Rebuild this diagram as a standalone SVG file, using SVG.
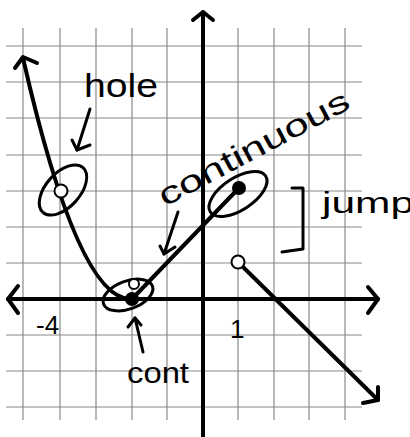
<svg xmlns="http://www.w3.org/2000/svg" width="410" height="437" viewBox="0 0 410 437">
<style>
.grid{stroke:#8a8a8a;stroke-width:1.2;fill:none}
.ink{stroke:#000;stroke-width:4;fill:none;stroke-linecap:round;stroke-linejoin:round}
.thin{stroke:#000;stroke-width:3;fill:none;stroke-linecap:round;stroke-linejoin:round}
.lbl{font-family:"Liberation Sans",Arial,sans-serif;fill:#000}
</style>
<rect width="410" height="437" fill="#fff"/>
<g id="grid" class="grid">
<path d="M23 28V420M60 28V420M96 28V420M132 28V420M167 28V420M238 28V420M274 28V420M309 28V420M345 28V420"/>
<path d="M6 46H362M6 82H362M6 118H362M6 155H362M6 191H362M6 227H362M6 263H362M6 335H362M6 371H362M6 407H362"/>
</g>
<g id="axes">
<path class="ink" d="M203 12V437"/>
<path class="ink" d="M193 20L203 12L213 20"/>
<path class="ink" d="M8 299H378"/>
<path class="ink" d="M18 286L8 299L18 313"/>
<path class="ink" d="M368 287L378 299L368 313"/>
</g>
<g id="connectors">
<path class="ink" d="M23 58Q78 300 131 299"/>
<path class="ink" d="M15 68L23 57L37 63"/>
<path class="ink" d="M133 298L237 190"/>
<path class="ink" d="M243 267L378 400"/>
<path class="ink" d="M363 403L378 400L378 387"/>
<path class="thin" d="M90 109L77 150"/>
<path class="thin" d="M72 140L77 150L90 145"/>
<path class="thin" d="M178 212L164 254"/>
<path class="thin" d="M160 246L164 254L175 247"/>
<path class="thin" d="M143 352L135 318"/>
<path class="thin" d="M128 327L135 318L141 325"/>
<path class="thin" d="M292 188H303V249L282 252"/>
</g>
<g id="hole-point">
<ellipse class="thin" cx="63" cy="190" rx="30" ry="17" transform="rotate(-48 63 190)"/>
<circle cx="61" cy="191" r="6.5" fill="#fff" stroke="#000" stroke-width="2"/>
</g>
<g id="cont-point">
<ellipse class="thin" cx="128" cy="295" rx="26" ry="14" transform="rotate(-20 128 295)"/>
<circle cx="134" cy="284" r="5" fill="#fff" stroke="#000" stroke-width="2"/>
<circle cx="132" cy="299" r="7" fill="#000"/>
</g>
<g id="continuous-point">
<ellipse class="thin" cx="238" cy="194" rx="33" ry="16" transform="rotate(-33 238 194)"/>
<circle cx="239" cy="188" r="7" fill="#000"/>
</g>
<g id="jump-open">
<circle cx="238" cy="262" r="6.5" fill="#fff" stroke="#000" stroke-width="2"/>
</g>
<g id="labels">
<text class="lbl" x="84" y="97" font-size="34" textLength="74" lengthAdjust="spacingAndGlyphs">hole</text>
<text class="lbl" x="165" y="207" font-size="31" textLength="212" lengthAdjust="spacingAndGlyphs" transform="rotate(-28 165 207)">continuous</text>
<text class="lbl" x="322" y="213" font-size="30" textLength="92" lengthAdjust="spacingAndGlyphs">jump</text>
<text class="lbl" x="127" y="383" font-size="30" textLength="62" lengthAdjust="spacingAndGlyphs">cont</text>
<text class="lbl" x="36" y="334" font-size="26">-4</text>
<text class="lbl" x="230" y="338" font-size="26">1</text>
</g>
</svg>
